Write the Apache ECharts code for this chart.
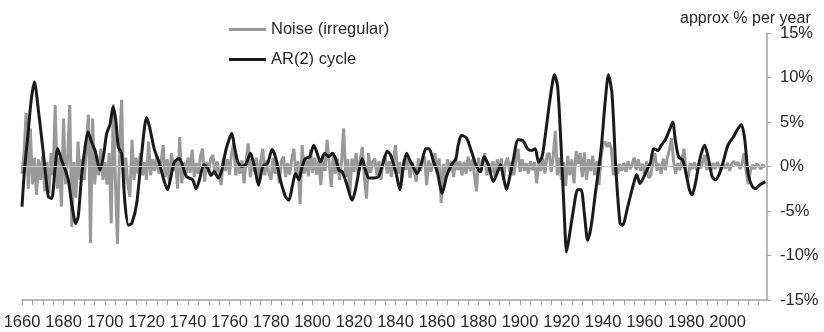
<!DOCTYPE html>
<html><head><meta charset="utf-8">
<script src="https://cdn.jsdelivr.net/npm/echarts@6/dist/echarts.min.js"></script>
<style>html,body{margin:0;padding:0;background:#fff}#c{width:824px;height:332px}</style>
</head><body><div id="c"></div>
<script>
const noiseStartYear = 1660;
const noiseValues = [
 -0.8, 1.5, 6.0, -2.5, 4.3, -2.0, 1.0, -3.2, 0.8, -1.5,
 1.2, -2.8, 0.5, -3.0, 1.5, -1.0, 6.9, -2.5, 1.0, -4.5,
 5.4, -2.0, 1.0, 6.9, -6.8, 0.5, -3.5, 2.8, -1.5, 0.8,
 -1.5, 2.0, 5.8, -8.6, 5.4, -2.0, 1.2, -1.0, 2.0, -1.5,
 0.5, -2.0, 1.5, -6.4, 7.0, -1.5, -8.7, 2.0, 7.5, -2.5,
 1.0, -2.0, -3.4, 3.0, -1.5, 1.0, -0.8, 1.5, -1.0, 0.5,
 -1.5, 2.8, -1.0, 0.8, -0.5, 1.2, -0.8, 0.5, 2.4, -1.2,
 0.8, -1.8, 1.5, -0.5, 0.7, -2.5, 3.3, -1.9, 0.5, -1.0,
 1.0, -0.7, 1.9, -1.2, 0.4, -0.8, 1.2, 2.0, -1.7, 0.5,
 -0.6, 0.9, 1.3, -1.0, 0.6, -0.7, -2.1, 1.0, -0.5, 0.8,
 -0.9, 1.5, 2.6, -1.0, 0.5, -0.8, 0.7, -1.9, 0.6, 2.6,
 -1.2, 0.9, -0.6, 1.0, -1.4, 0.6, 2.0, -1.0, 0.7, -0.8,
 -1.5, 1.0, -0.8, 0.5, -1.9, 0.6, 1.1, -1.2, 0.4, -0.9,
 0.8, 2.0, -1.0, 0.6, -4.2, 2.4, -0.8, 0.7, -1.1, 1.9,
 -0.7, 1.0, -0.9, 0.6, -2.1, 1.2, -0.5, 3.0, 0.5, -2.3,
 1.4, -0.8, 0.9, -1.5, 0.6, 4.3, -1.2, 0.8, -3.0, 0.9,
 -0.6, 1.5, -0.9, 0.7, 2.2, -1.3, -3.6, 1.5, -0.7, 0.5,
 0.9, -1.0, 0.6, -1.5, 0.7, 1.2, -0.8, 0.6, -1.2, 0.8,
 2.4, -0.8, 0.5, -1.7, 0.7, -0.4, 1.2, -1.3, 0.5, -0.6,
 -1.7, 0.9, -0.5, 0.6, 1.1, -2.1, 0.7, -0.6, 0.4, 1.5,
 -0.8, 0.9, -4.1, 0.3, -1.5, 0.8, -0.5, 0.6, -1.2, 0.9,
 -0.4, 0.6, -1.0, 0.5, -0.8, 1.1, -0.5, 0.8, -0.9, -2.8,
 1.0, -0.6, 0.5, 1.5, -1.0, 0.4, -0.7, 0.6, -1.2, 0.8,
 -0.5, 0.9, -1.5, 0.4, 1.0, -0.6, 0.5, -1.0, 0.7, 2.0,
 -0.6, 0.8, -0.5, 0.4, -0.8, 0.6, -0.4, 0.5, -1.9, 0.7,
 -0.5, 0.9, -0.8, 1.3, 1.5, -0.6, 1.2, 4.0, -1.0, 1.0,
 -1.5, 0.5, -2.2, 1.2, -1.0, 0.8, -1.9, 1.7, 0.3, 1.5,
 -1.2, 1.6, -1.5, 0.8, -0.5, 1.2, -1.0, 0.6, -2.1, 1.0,
 2.5, 2.8, 2.2, 2.7, 2.0, -1.0, 0.5, -0.8, 0.3, -0.5,
 0.4, -0.6, 0.6, -0.3, 0.2, 1.0, -0.4, 0.8, -0.5, 0.3,
 -0.8, 0.6, -1.3, -1.0, 0.5, 1.5, -0.5, 0.3, -0.8, 0.9,
 -0.4, 1.0, 1.9, 3.2, 0.5, -0.8, 0.4, -0.4, 0.6, 2.0,
 -0.8, -1.3, 0.4, -0.3, 0.5, -0.4, 0.3, -0.2, 0.5, 1.3,
 -0.4, 0.3, -0.5, 0.4, -0.3, 0.5, 0.1, -0.4, 0.3, -0.2,
 0.4, -0.5, 0.3, 0.6, 0.2, 0.5, -0.3, 0.4, 1.5, -0.6,
 -2.0, -0.5, 0.2, -0.3, 0.3, 0.1, -0.3, 0.2, -0.1
];
const cycleYears = [
 1660.0,1661.2,1662.8,1664.4,1666.0,1667.9,1670.3,1672.7,1674.3,1675.9,1677.2,1679.1,1680.7,1682.3,1683.9,1685.9,1687.1,1688.7,1690.4,1691.8,
 1693.6,1695.2,1697.6,1699.2,1700.8,1702.4,1703.9,1705.2,1706.4,1708.0,1709.6,1711.3,1712.9,1715.3,1717.7,1720.0,1721.4,1723.8,1726.2,1728.6,
 1730.2,1731.8,1733.4,1735.8,1737.5,1739.1,1740.7,1742.3,1743.9,1745.5,1747.6,1749.5,1751.1,1752.7,1754.6,1756.3,1758.3,1761.1,1762.4,1764.0,
 1765.9,1768.0,1770.1,1772.0,1774.0,1776.0,1778.4,1780.5,1782.1,1784.5,1787.0,1788.6,1790.2,1791.8,1793.4,1795.0,1796.6,1798.7,1800.6,1802.2,
 1803.8,1805.8,1807.8,1809.5,1811.1,1812.7,1814.3,1816.4,1819.1,1820.7,1822.3,1823.9,1825.5,1827.1,1829.5,1831.9,1834.0,1836.0,1837.6,1840.3,
 1842.1,1843.7,1845.3,1846.9,1848.5,1850.4,1852.5,1854.6,1856.2,1858.1,1860.1,1862.5,1864.6,1867.0,1869.1,1870.2,1871.8,1874.2,1876.6,1879.0,
 1881.0,1882.6,1884.7,1887.1,1888.7,1890.6,1891.9,1893.5,1895.1,1896.7,1899.1,1901.4,1903.6,1905.7,1907.3,1908.9,1910.6,1912.5,1914.4,1916.6,
 1918.1,1919.7,1921.3,1922.4,1923.7,1925.7,1927.8,1929.4,1931.0,1932.6,1934.2,1936.3,1939.0,1941.1,1942.6,1944.3,1946.2,1948.2,1949.4,1951.9,
 1954.3,1956.2,1957.8,1959.4,1961.5,1962.8,1964.4,1966.5,1968.1,1970.0,1972.0,1973.6,1974.8,1976.4,1978.4,1980.0,1981.6,1982.9,1984.5,1986.9,
 1989.0,1990.6,1992.5,1994.1,1996.1,1998.1,2000.2,2003.0,2005.1,2006.7,2008.3,2009.9,2011.8,2013.4,2015.3,2018.2
];
const cycleValues = [
 -4.5,-0.4,3.4,7.4,9.5,6.3,1.5,-3.4,-3.6,-0.3,2.0,0.7,-0.3,-1.5,-4.1,-6.4,-5.6,-1.1,2.2,3.9,
 2.7,1.8,-0.4,1.1,3.7,4.7,6.7,5.2,2.2,1.5,-4.1,-6.6,-6.4,-4.1,1.5,5.5,4.5,1.9,0.4,-1.7,
 -2.6,-1.1,0.5,0.9,0.0,-1.1,-1.3,-1.5,-2.5,-1.5,0.2,-0.2,-1.0,-0.6,-1.3,-0.4,1.9,3.7,2.2,0.5,
 0.0,0.3,1.5,0.0,-2.1,0.0,0.4,1.9,1.1,-1.5,-3.4,-3.8,-2.3,-0.8,-1.5,0.0,0.9,1.1,2.4,1.5,
 0.5,1.5,1.1,1.5,0.9,-0.4,-0.6,-1.9,-3.8,-2.6,-0.6,0.9,-0.4,-1.3,-1.3,-1.1,0.4,1.7,1.3,-0.8,
 -2.6,0.0,1.5,0.7,0.0,-0.8,0.4,2.0,2.0,0.7,-0.6,-3.0,-1.1,0.2,0.9,2.4,3.5,3.2,1.7,0.0,
 -0.6,1.1,0.2,-1.7,-0.9,0.2,-1.1,-2.6,-1.1,0.7,3.0,2.9,2.0,1.8,2.0,0.5,1.1,4.1,7.5,10.3,
 9.0,2.6,-5.3,-9.6,-7.9,-4.9,-2.6,-2.6,-5.3,-8.3,-6.8,-3.0,1.8,7.5,10.3,8.2,-0.4,-6.4,-6.6,-4.5,
 -2.3,-0.9,-1.9,-1.3,-0.2,0.4,2.0,1.8,2.4,3.0,4.1,5.0,3.0,1.1,0.7,-0.8,-2.6,-3.2,-1.9,1.1,
 2.4,1.1,-1.1,-1.5,-0.8,0.7,2.4,3.4,4.3,4.7,3.0,-0.8,-2.2,-2.5,-2.1,-1.7
];
const yTickValues = [-15, -10, -5, 0, 5, 10, 15];
const xLabelYears = [1660,1680,1700,1720,1740,1760,1780,1800,1820,1840,1860,1880,1900,1920,1940,1960,1980,2000];
const seriesNames = ['Noise (irregular)', 'AR(2) cycle'];
const unitLabel = 'approx % per year';

const noiseData = noiseValues.map((v, i) => [noiseStartYear + i, v]);
const cycleData = cycleYears.map((y, i) => [y, cycleValues[i]]);

const font = 'Liberation Sans, Arial, sans-serif';
const txt = '#262626';
const axisGray = '#a3a3a3';

const chart = echarts.init(document.getElementById('c'), null, {renderer: 'canvas'});
chart.setOption({
  animation: false,
  backgroundColor: '#ffffff',
  textStyle: {fontFamily: font},
  title: {
    text: unitLabel, left: 675, top: 6,
    textStyle: {fontSize: 16, fontWeight: 'normal', color: txt, fontFamily: font}
  },
  legend: {
    orient: 'vertical', left: 224, top: 16, itemGap: 13,
    itemWidth: 37, itemHeight: 3, icon: 'rect',
    textStyle: {fontSize: 16.5, color: txt, fontFamily: font},
    data: seriesNames
  },
  grid: {left: 22, right: 57, top: 33, bottom: 32, containLabel: false},
  xAxis: {
    type: 'value', min: 1660, max: 2019, interval: 5,
    axisLine: {show: true, onZero: false, lineStyle: {color: axisGray, width: 1.5}},
    axisTick: {show: true, length: 5, lineStyle: {color: axisGray, width: 1}},
    splitLine: {show: false},
    axisLabel: {
      interval: 0, margin: 14, fontSize: 16.5, color: txt, fontFamily: font,
      showMaxLabel: false,
      formatter: v => xLabelYears.indexOf(v) >= 0 ? String(v) : ''
    }
  },
  yAxis: {
    type: 'value', position: 'right', min: -15, max: 15, interval: 5,
    axisLine: {show: true, onZero: false, lineStyle: {color: axisGray, width: 1.5}},
    axisTick: {show: true, length: 4, lineStyle: {color: axisGray}},
    splitLine: {show: false},
    axisLabel: {
      margin: 13, fontSize: 16.5, color: txt, fontFamily: font,
      formatter: v => yTickValues.indexOf(v) >= 0 ? v + '%' : ''
    }
  },
  series: [
    {
      name: seriesNames[0], type: 'line', data: noiseData,
      symbol: 'none', smooth: false,
      lineStyle: {color: '#999999', width: 3},
      itemStyle: {color: '#999999'},
      markLine: {
        silent: true, symbol: 'none', label: {show: false},
        lineStyle: {color: '#c4c4c4', width: 1, type: 'solid'},
        data: [{yAxis: 0}]
      },
      z: 2
    },
    {
      name: seriesNames[1], type: 'line', data: cycleData,
      symbol: 'none', smooth: 0.25,
      lineStyle: {color: '#1a1a1a', width: 3},
      itemStyle: {color: '#1a1a1a'},
      z: 3
    }
  ]
});
</script>
</body></html>
